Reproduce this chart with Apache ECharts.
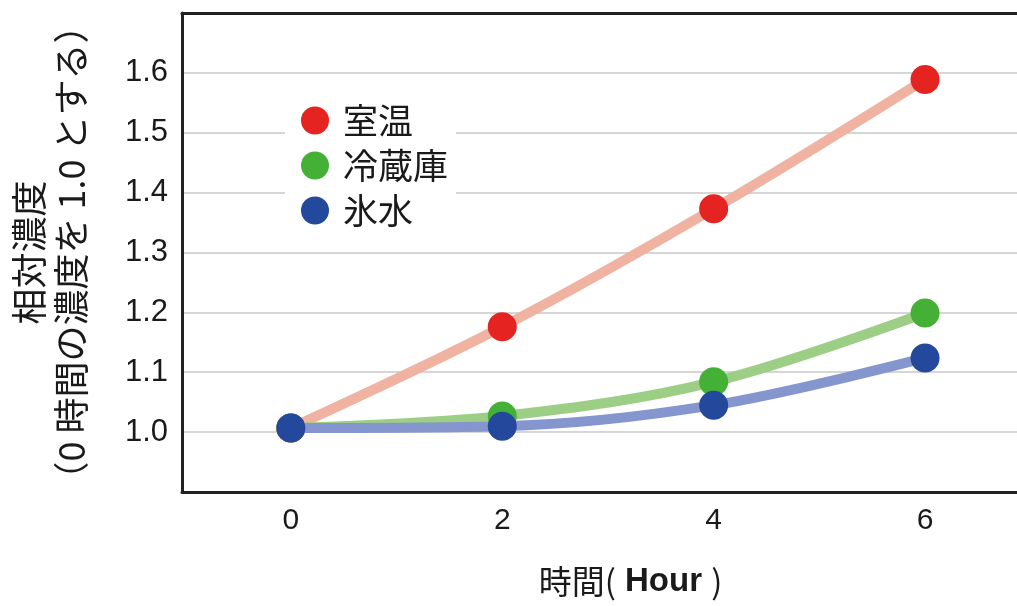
<!DOCTYPE html>
<html>
<head>
<meta charset="utf-8">
<script src="https://cdn.jsdelivr.net/npm/echarts@6/dist/echarts.min.js"></script>
<style>
  html, body { margin: 0; padding: 0; background: #fff; }
  #chart { width: 1017px; height: 606px; }
</style>
</head>
<body>
<div id="chart"></div>
<script>
// Hours after start
const hours = [0, 2, 4, 6];
// Relative concentration (value at 0 h taken as 1.0)
const roomTemp = [1.007, 1.176, 1.373, 1.589];
const fridge = [1.007, 1.027, 1.084, 1.199];
const iceWater = [1.007, 1.010, 1.045, 1.124];
const seriesNames = ['室温', '冷蔵庫', '氷水'];
const xTickValues = [0, 2, 4, 6];

const jpFont = '"Noto Sans CJK JP", "Liberation Sans", sans-serif';
const numFont = '"Liberation Sans", Arial, sans-serif';

const markerColors = ['#e52421', '#45b036', '#24489b'];
const lineColors = ['#f0b3a1', '#9ccf85', '#8595ce'];
const values = [roomTemp, fridge, iceWater];

const chart = echarts.init(document.getElementById('chart'), null, { renderer: 'canvas' });

const series = seriesNames.map((name, i) => ({
  name: name,
  type: 'line',
  data: hours.map((h, k) => [h, values[i][k]]),
  smooth: 0.35,
  symbol: 'circle',
  symbolSize: 29,
  showAllSymbol: true,
  lineStyle: { color: lineColors[i], width: 10, cap: 'round' },
  itemStyle: { color: markerColors[i], borderWidth: 0 },
  emphasis: { disabled: true },
  z: 2 + i
}));

const axisLineStyle = { color: '#222', width: 3 };

chart.setOption({
  animation: false,
  backgroundColor: '#fff',
  grid: { left: 182, right: 0, top: 13, bottom: 114 },
  legend: {
    orient: 'vertical',
    left: 285, top: 86,
    padding: [17, 8, 20, 16],
    backgroundColor: '#fff',
    itemWidth: 40, itemHeight: 28, itemGap: 10,
    icon: 'circle',
    data: seriesNames.map((n, i) => ({ name: n, itemStyle: { color: markerColors[i] } })),
    textStyle: { fontFamily: jpFont, fontSize: 35, color: '#1a1a1a', lineHeight: 32, padding: [0, 0, 0, 3] },
    z: 10
  },
  xAxis: [{
    type: 'value',
    min: -1.03, max: 6.87,
    name: '{a|時間}{p|(}{b| Hour }{p|)}',
    nameLocation: 'middle',
    nameGap: 73,
    nameTextStyle: {
      padding: [0, 0, 0, 62],
      rich: {
        a: { fontFamily: jpFont, fontSize: 33, color: '#1a1a1a' },
        p: { fontFamily: jpFont, fontSize: 33, color: '#1a1a1a' },
        b: { fontFamily: numFont, fontSize: 33, fontWeight: 'bold', color: '#1a1a1a' }
      }
    },
    axisLine: { show: true, onZero: false, lineStyle: axisLineStyle },
    axisTick: { show: false },
    splitLine: { show: false },
    axisLabel: {
      customValues: xTickValues,
      fontFamily: numFont, fontSize: 30, color: '#1a1a1a', margin: 14
    }
  }, {
    // plain frame line along the top of the plot
    type: 'value',
    position: 'top',
    min: -1.03, max: 6.87,
    axisLine: { show: true, onZero: false, lineStyle: axisLineStyle },
    axisTick: { show: false },
    axisLabel: { show: false },
    splitLine: { show: false }
  }],
  yAxis: {
    type: 'value',
    min: 0.9, max: 1.7, interval: 0.1,
    name: '相対濃度\n（0 時間の濃度を 1.0 とする）',
    nameLocation: 'middle',
    nameRotate: 90,
    nameGap: 90,
    nameTextStyle: { fontFamily: jpFont, fontSize: 36, color: '#1a1a1a', lineHeight: 42, align: 'center' },
    axisLine: { show: true, onZero: false, lineStyle: axisLineStyle },
    axisTick: { show: false },
    axisLabel: {
      fontFamily: numFont, fontSize: 31, color: '#1a1a1a', margin: 14,
      formatter: v => (v < 0.95 || v > 1.65) ? '' : v.toFixed(1)
    },
    splitLine: {
      show: true,
      lineStyle: { color: '#c8c8c8', width: 1.5 }
    }
  },
  series: series
});
</script>
</body>
</html>
